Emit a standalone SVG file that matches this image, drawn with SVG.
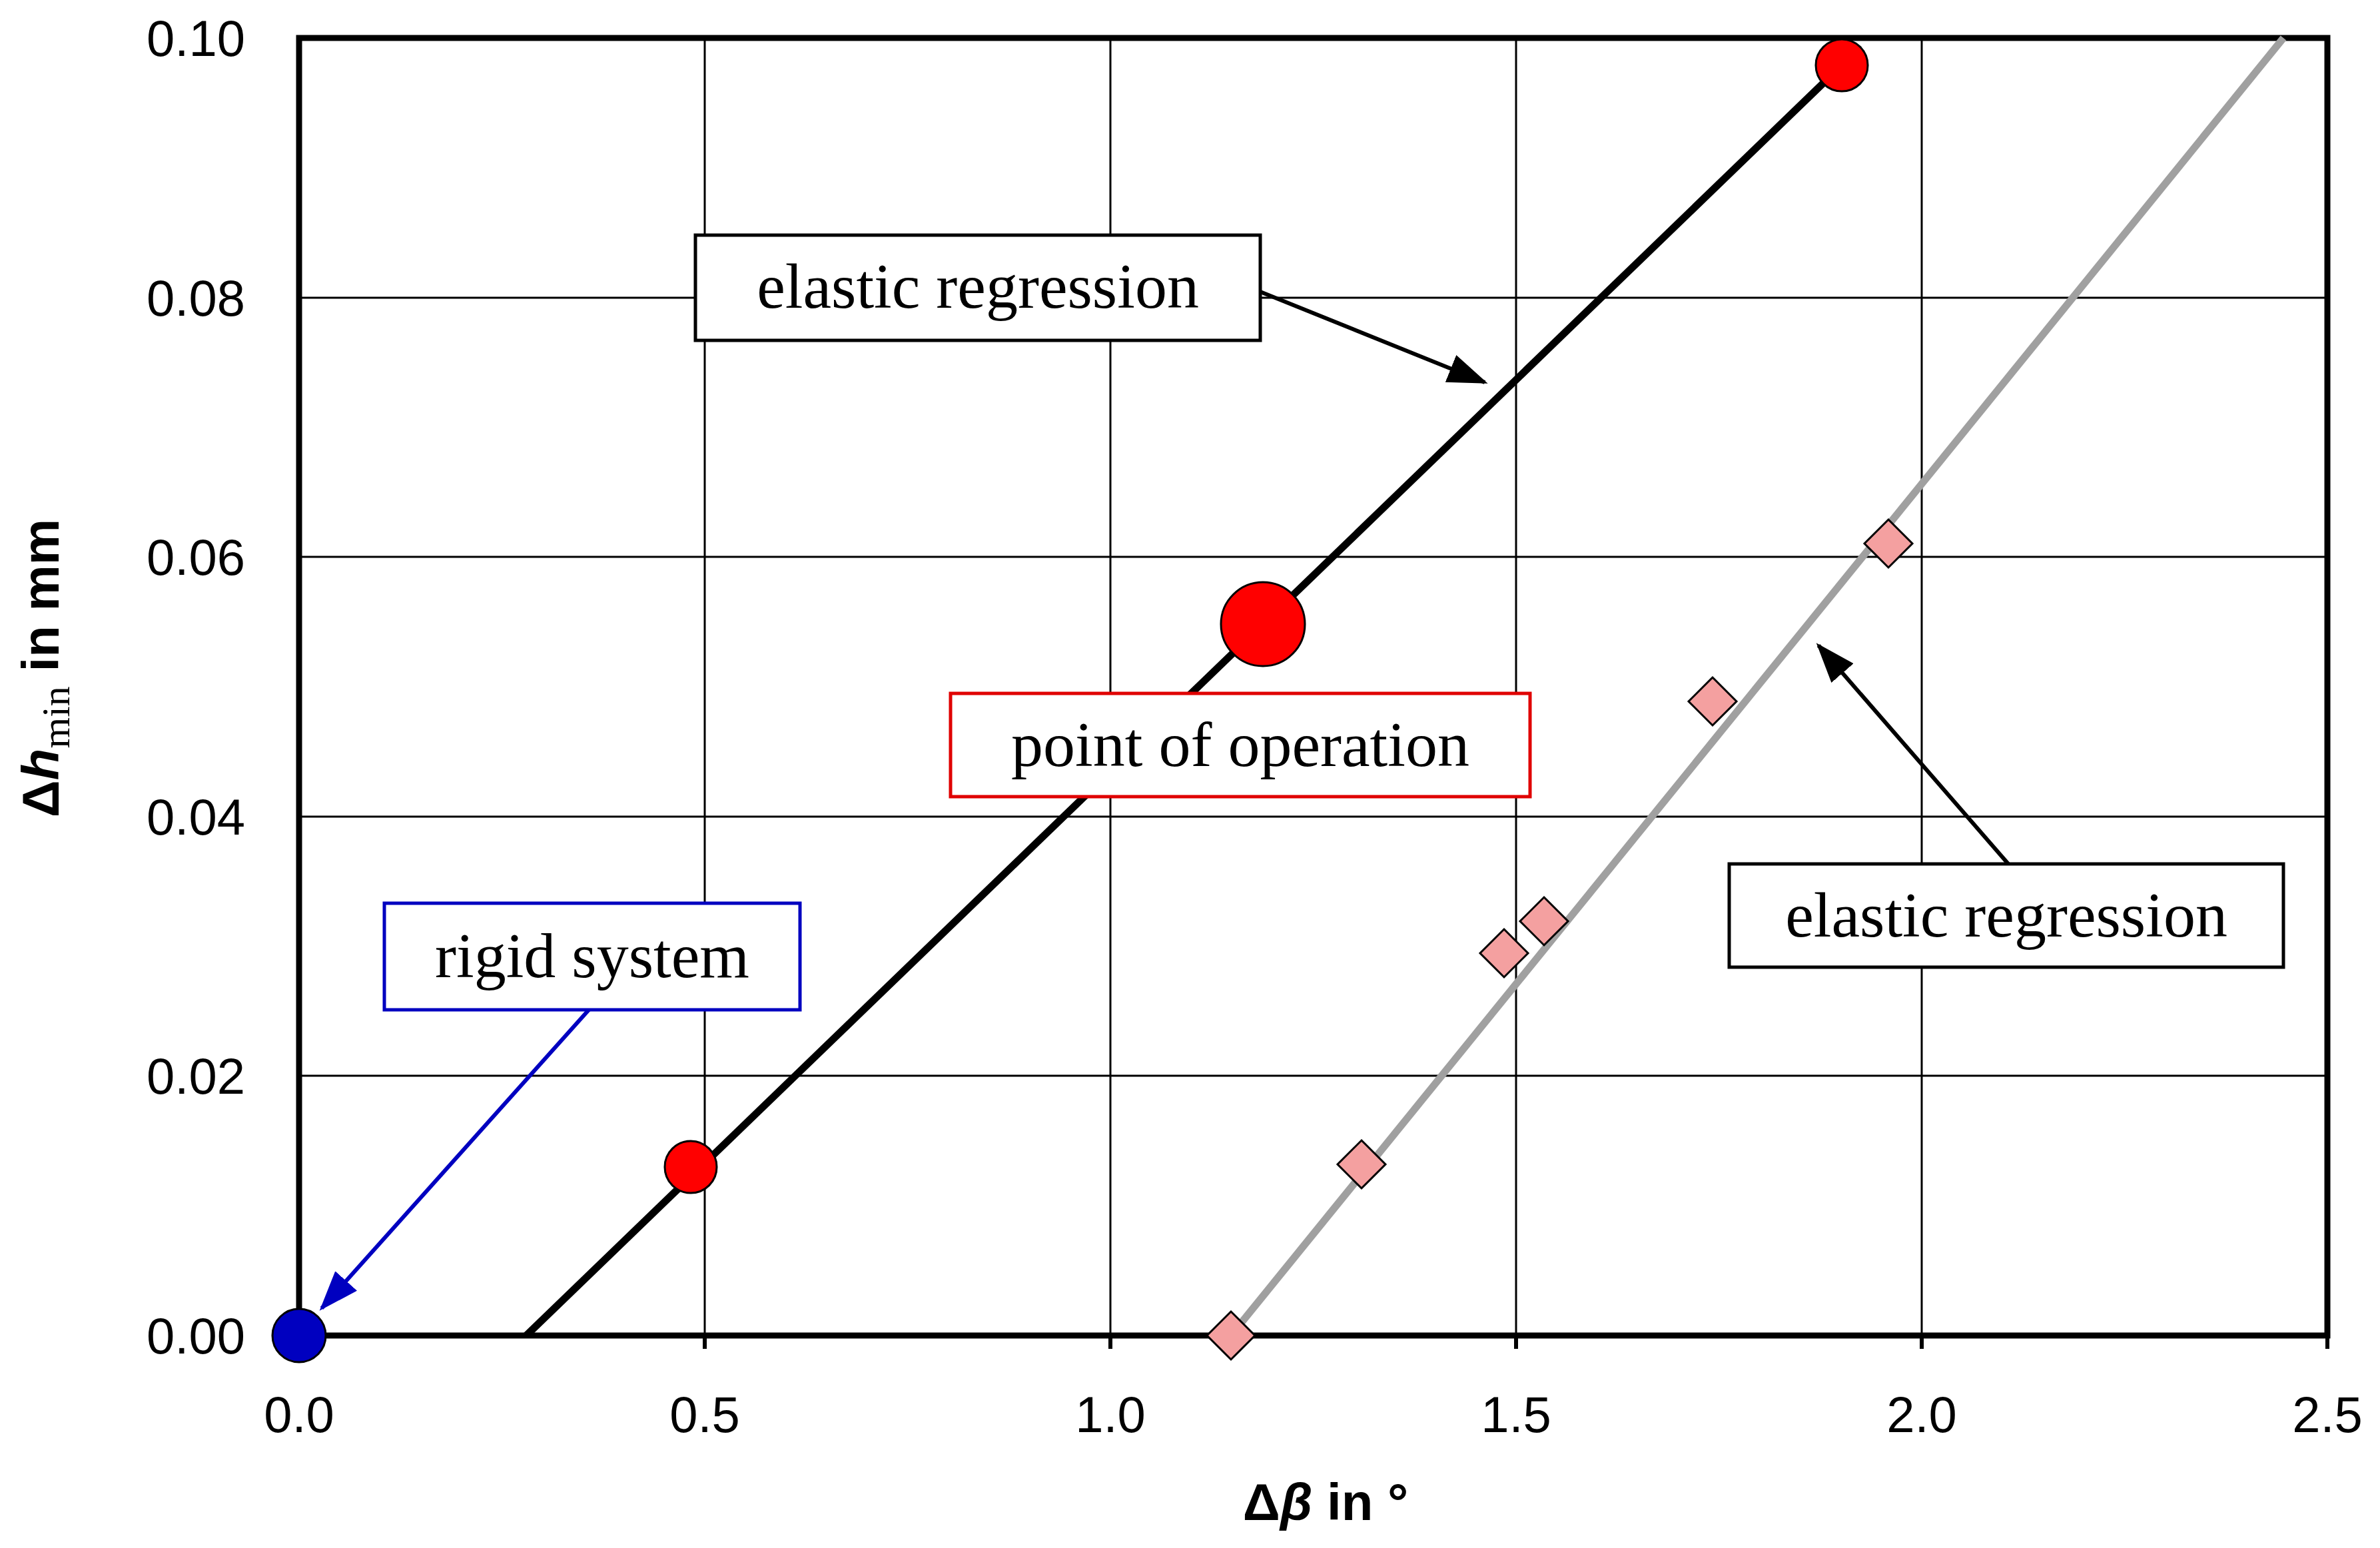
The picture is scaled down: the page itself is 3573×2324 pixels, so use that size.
<svg xmlns="http://www.w3.org/2000/svg" width="3573" height="2324" viewBox="0 0 3573 2324">
<style>
.grid{stroke:#000;stroke-width:3}
.tk{font-family:"Liberation Sans",Arial,sans-serif;font-size:76px;fill:#000}
.ttl{font-family:"Liberation Sans",Arial,sans-serif;font-size:78px;font-weight:bold}
.lbl{font-family:"Liberation Serif","Times New Roman",serif;font-size:96px;text-anchor:middle}
.box{fill:#fff;stroke-width:5}
.dot{fill:#f00;stroke:#000;stroke-width:3}
.dia{fill:#f4a0a0;stroke:#000;stroke-width:3}
</style>
<defs>
<marker id="ab" markerWidth="60" markerHeight="44" refX="55" refY="22" orient="auto" markerUnits="userSpaceOnUse" viewBox="0 0 60 44"><path d="M0,0L60,22L0,44z" fill="#000"/></marker>
<marker id="ablue" markerWidth="60" markerHeight="44" refX="55" refY="22" orient="auto" markerUnits="userSpaceOnUse" viewBox="0 0 60 44"><path d="M0,0L60,22L0,44z" fill="#0000c0"/></marker>
</defs>
<rect width="3573" height="2324" fill="#fff"/>
<g id="grid">
<line class="grid" x1="1058" y1="57" x2="1058" y2="2025"/>
<line class="grid" x1="1667" y1="57" x2="1667" y2="2025"/>
<line class="grid" x1="2276" y1="57" x2="2276" y2="2025"/>
<line class="grid" x1="2885" y1="57" x2="2885" y2="2025"/>
<line class="grid" x1="449" y1="1615" x2="3494" y2="1615"/>
<line class="grid" x1="449" y1="1226" x2="3494" y2="1226"/>
<line class="grid" x1="449" y1="836" x2="3494" y2="836"/>
<line class="grid" x1="449" y1="447" x2="3494" y2="447"/>
<rect x="449" y="57" width="3045" height="1948" fill="none" stroke="#000" stroke-width="9"/>
<path d="M449 2005v20M1058 2005v20M1667 2005v20M2276 2005v20M2885 2005v20M3494 2005v20" stroke="#000" stroke-width="6"/>
</g>
<g id="ticks" class="tk">
<g text-anchor="end">
<text x="368" y="2032">0.00</text><text x="368" y="1642">0.02</text><text x="368" y="1253">0.04</text><text x="368" y="863">0.06</text><text x="368" y="474">0.08</text><text x="368" y="84">0.10</text>
</g>
<g text-anchor="middle">
<text x="449" y="2150">0.0</text><text x="1058" y="2150">0.5</text><text x="1667" y="2150">1.0</text><text x="2276" y="2150">1.5</text><text x="2885" y="2150">2.0</text><text x="3494" y="2150">2.5</text>
</g>
</g>
<text class="ttl" x="1990" y="2282" text-anchor="middle">Δ<tspan font-style="italic">β</tspan> in °</text>
<text class="ttl" transform="translate(88,1003) rotate(-90)" text-anchor="middle">Δ<tspan font-style="italic">h</tspan><tspan font-weight="normal" font-family="Liberation Serif" font-size="60" dy="16">min</tspan><tspan dy="-16"> in mm</tspan></text>
<g id="lines">
<line x1="790" y1="2005" x2="2765" y2="98" stroke="#000" stroke-width="11"/>
<line x1="1848" y1="2005" x2="3428" y2="57" stroke="#a0a0a0" stroke-width="11"/>
</g>
<g id="points">
<polygon class="dia" points="1848,1969 1884,2005 1848,2041 1812,2005"/>
<polygon class="dia" points="2044,1712 2080,1748 2044,1784 2008,1748"/>
<polygon class="dia" points="2258,1395 2294,1431 2258,1467 2222,1431"/>
<polygon class="dia" points="2318,1347 2354,1383 2318,1419 2282,1383"/>
<polygon class="dia" points="2571,1017 2607,1053 2571,1089 2535,1053"/>
<polygon class="dia" points="2835,780 2871,816 2835,852 2799,816"/>
<circle class="dot" cx="1037" cy="1752" r="39"/>
<circle class="dot" cx="1896" cy="937" r="63"/>
<circle class="dot" cx="2765" cy="98" r="39"/>
<circle cx="449" cy="2005" r="40" fill="#0000c0" stroke="#000" stroke-width="3"/>
</g>
<g id="connectors">
<line x1="1892" y1="438" x2="2229" y2="574" stroke="#000" stroke-width="6" marker-end="url(#ab)"/>
<line x1="3015" y1="1297" x2="2730" y2="969" stroke="#000" stroke-width="6" marker-end="url(#ab)"/>
<line x1="884" y1="1516" x2="483" y2="1964" stroke="#0000c0" stroke-width="6" marker-end="url(#ablue)"/>
</g>
<g id="label-elastic1"><rect class="box" x="1044" y="353" width="848" height="158" stroke="#000"/><text class="lbl" x="1468" y="462">elastic regression</text></g>
<g id="label-point"><rect class="box" x="1427" y="1041" width="870" height="155" stroke="#e00000"/><text class="lbl" x="1862" y="1150">point of operation</text></g>
<g id="label-rigid"><rect class="box" x="577" y="1356" width="624" height="160" stroke="#0000c0"/><text class="lbl" x="889" y="1467">rigid system</text></g>
<g id="label-elastic2"><rect class="box" x="2596" y="1297" width="832" height="155" stroke="#000"/><text class="lbl" x="3012" y="1406">elastic regression</text></g>
</svg>
